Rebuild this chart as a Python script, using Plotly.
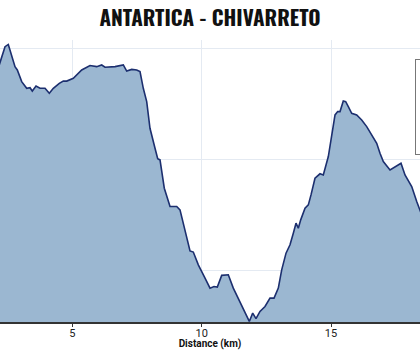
import plotly.graph_objects as go

distance_km = [2.10, 2.205, 2.399, 2.526, 2.658, 2.785, 2.874, 3.044, 3.237, 3.365, 3.454, 3.597,
               3.751, 3.945, 4.111, 4.266, 4.497, 4.652, 4.784, 5.039, 5.363, 5.684, 5.943,
               6.136, 6.264, 6.651, 6.971, 7.103, 7.296, 7.489, 7.617, 7.744, 7.876, 8.003,
               8.197, 8.301, 8.390, 8.556, 8.777, 9.036, 9.163, 9.356, 9.550, 9.677, 9.871,
               10.130, 10.323, 10.477, 10.605, 10.775, 11.030, 11.223, 11.417, 11.548, 11.676,
               11.842, 11.973, 12.101, 12.255, 12.449, 12.642, 12.797, 12.963, 13.094, 13.261,
               13.415, 13.543, 13.647, 13.736, 13.829, 13.995, 14.123, 14.227, 14.381, 14.575,
               14.702, 14.896, 15.027, 15.155, 15.259, 15.348, 15.475, 15.568, 15.669, 15.800,
               15.993, 16.187, 16.380, 16.573, 16.767, 16.894, 17.022, 17.281, 17.539, 17.706,
               17.860, 18.120, 18.313, 18.440, 18.600]
elevation_m = [2760, 2777, 2804, 2808, 2789, 2768, 2762, 2741, 2729, 2730, 2724, 2733,
               2729, 2729, 2720, 2729, 2738, 2742, 2742, 2747, 2762, 2770, 2768,
               2771, 2767, 2768, 2771, 2760, 2763, 2762, 2759, 2729, 2705, 2657,
               2621, 2602, 2600, 2549, 2516, 2516, 2510, 2471, 2436, 2434, 2411,
               2387, 2369, 2372, 2371, 2392, 2393, 2369, 2351, 2339, 2327,
               2309, 2324, 2314, 2327, 2336, 2351, 2351, 2369, 2402, 2432,
               2447, 2468, 2486, 2477, 2492, 2513, 2519, 2537, 2567, 2575,
               2573, 2606, 2645, 2681, 2687, 2687, 2706, 2705, 2696, 2684,
               2681, 2672, 2660, 2645, 2630, 2612, 2597, 2582, 2590, 2594,
               2573, 2552, 2525, 2510, 2490]
x_ticks = [5, 10, 15]
title_text = "ANTARTICA - CHIVARRETO"
x_title = "Distance (km)"
trace_name = "Elevación (m)"

fig = go.Figure()
fig.add_trace(go.Scatter(
    x=distance_km, y=elevation_m, mode="lines", name=trace_name,
    fill="tozeroy", fillcolor="#9bb7d1",
    line=dict(color="#1c2f6f", width=1.6),
    showlegend=True,
))

fig.update_layout(
    width=420, height=350,
    margin=dict(l=0, r=0, t=40, b=28, autoexpand=False),
    paper_bgcolor="white", plot_bgcolor="white",
    title=dict(text=title_text, x=0.5, xanchor="center", y=0.947, yanchor="middle",
               automargin=False,
               font=dict(family="Oswald, Liberation Sans Narrow, DejaVu Sans Condensed",
                         size=21, color="#111111", weight="bold")),
    xaxis=dict(range=[2.205, 18.44], tickvals=x_ticks, showgrid=True, automargin=False,
               gridcolor="#e4eaf2", gridwidth=1, zeroline=False,
               showline=True, linecolor="#333333", linewidth=1.5,
               ticks="outside", ticklen=3, tickcolor="#333333",
               ticklabelstandoff=-3,
               tickfont=dict(family="Roboto", size=11, color="#222222"),
               title=dict(text=x_title, standoff=0,
                          font=dict(family="Roboto", size=10, color="#111111", weight="bold"))),
    yaxis=dict(range=[2308, 2816], tick0=2400, dtick=200, showgrid=True, automargin=False,
               gridcolor="#e4eaf2", gridwidth=1, zeroline=False,
               showticklabels=False, showline=False),
    legend=dict(xref="container", x=0.988, xanchor="left", y=0.933, yanchor="top",
                bgcolor="white", bordercolor="#777777", borderwidth=1,
                font=dict(family="Roboto", size=62, color="#333333")),
)

fig.write_html("out.html", config={"displayModeBar": False},
               post_script="document.body.style.margin='0';")
